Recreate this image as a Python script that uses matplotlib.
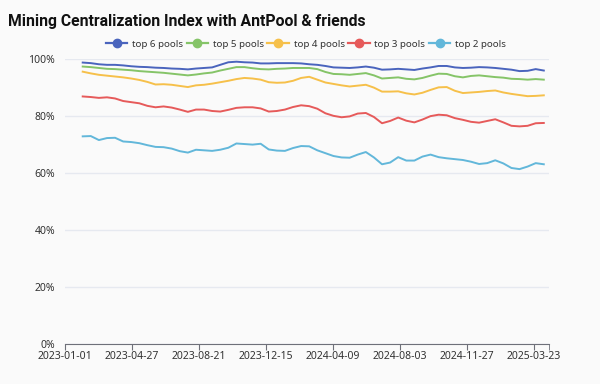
import numpy as np
import pandas as pd
import matplotlib
matplotlib.use('Agg')
import matplotlib.pyplot as plt
from matplotlib.ticker import FuncFormatter

dates = pd.date_range('2023-02-01', periods=58, freq='14D')

top6 = [98.8, 98.6, 98.2, 98.0, 98.0, 97.8, 97.5, 97.3, 97.2, 97.0,
        96.9, 96.7, 96.6, 96.4, 96.7, 96.9, 97.1, 98.0, 98.9, 99.1,
        98.9, 98.8, 98.5, 98.5, 98.6, 98.6, 98.6, 98.5, 98.2, 98.0,
        97.6, 97.1, 97.0, 96.9, 97.1, 97.4, 97.0, 96.3, 96.4, 96.6,
        96.4, 96.2, 96.7, 97.1, 97.6, 97.6, 97.1, 96.9, 97.0, 97.2,
        97.1, 96.9, 96.6, 96.3, 95.8, 95.9, 96.5, 96.0]
top5 = [97.4, 97.2, 96.9, 96.6, 96.5, 96.3, 96.1, 95.8, 95.6, 95.4,
        95.2, 94.9, 94.6, 94.3, 94.6, 95.0, 95.3, 96.0, 96.6, 97.2,
        97.2, 96.8, 96.5, 96.4, 96.6, 96.7, 96.9, 96.9, 96.9, 96.5,
        95.5, 94.8, 94.7, 94.5, 94.8, 95.1, 94.3, 93.2, 93.4, 93.6,
        93.1, 92.9, 93.4, 94.2, 94.9, 94.8, 94.0, 93.6, 94.1, 94.3,
        94.0, 93.7, 93.5, 93.1, 93.0, 92.8, 93.0, 92.8]
top4 = [95.6, 95.0, 94.5, 94.2, 93.9, 93.6, 93.2, 92.7, 92.0, 91.1,
        91.2, 91.0, 90.6, 90.2, 90.8, 91.0, 91.4, 91.9, 92.4, 93.0,
        93.4, 93.2, 92.8, 91.9, 91.7, 91.8, 92.4, 93.4, 93.8, 92.8,
        91.8, 91.3, 90.8, 90.4, 90.7, 91.0, 90.0, 88.6, 88.6, 88.7,
        88.0, 87.6, 88.2, 89.2, 90.1, 90.2, 88.9, 88.1, 88.3, 88.5,
        88.8, 89.0, 88.3, 87.8, 87.4, 87.0, 87.1, 87.3]
top3 = [86.9, 86.7, 86.4, 86.6, 86.2, 85.3, 84.9, 84.5, 83.6, 83.1,
        83.4, 83.0, 82.3, 81.5, 82.3, 82.3, 81.8, 81.6, 82.2, 82.9,
        83.1, 83.1, 82.7, 81.6, 81.8, 82.3, 83.2, 83.8, 83.5, 82.6,
        81.0, 80.1, 79.6, 79.9, 80.9, 81.1, 79.7, 77.5, 78.3, 79.5,
        78.4, 77.8, 78.8, 80.0, 80.5, 80.3, 79.3, 78.7, 78.0, 77.7,
        78.3, 78.9, 77.8, 76.6, 76.4, 76.6, 77.5, 77.6]
top2 = [72.9, 73.0, 71.6, 72.3, 72.4, 71.1, 70.9, 70.5, 69.8, 69.2,
        69.1, 68.6, 67.7, 67.2, 68.2, 68.0, 67.8, 68.2, 68.9, 70.4,
        70.2, 70.0, 70.3, 68.3, 67.9, 67.8, 68.8, 69.5, 69.4, 68.0,
        67.0, 66.0, 65.5, 65.4, 66.5, 67.4, 65.5, 63.1, 63.7, 65.6,
        64.4, 64.4, 65.8, 66.5, 65.6, 65.2, 64.9, 64.6, 64.0, 63.2,
        63.5, 64.5, 63.4, 61.8, 61.4, 62.3, 63.5, 63.1]

series = [('top 6 pools', top6, '#4a64bd'),
          ('top 5 pools', top5, '#85c468'),
          ('top 4 pools', top4, '#f6c04a'),
          ('top 3 pools', top3, '#e65a5a'),
          ('top 2 pools', top2, '#62b7da')]

tick_labels = ['2023-01-01', '2023-04-27', '2023-08-21', '2023-12-15',
               '2024-04-09', '2024-08-03', '2024-11-27', '2025-03-23']

plt.rcParams['font.family'] = ['Noto Sans', 'DejaVu Sans']

bg = '#fafafa'
fig = plt.figure(figsize=(6, 3.84), dpi=100, facecolor=bg)
ax = fig.add_axes([0.108, 0.104, 0.807, 0.742], facecolor=bg)

for name, vals, col in series:
    ax.plot(dates, vals, color=col, lw=1.4, label=name)

x_end = pd.Timestamp('2025-04-18')
ax.set_xlim(pd.Timestamp('2023-01-01'), x_end)
ax.set_ylim(0, 100)

ax.set_xticks(pd.to_datetime(tick_labels))
ax.set_xticklabels(tick_labels)
ax.set_xticks([x_end], minor=True)
ax.tick_params(axis='x', which='both', length=4, color='#6e7079',
               labelsize=7.5, labelcolor='#333333', pad=1)

ax.set_yticks([0, 20, 40, 60, 80, 100])
ax.yaxis.set_major_formatter(FuncFormatter(lambda v, p: f'{v:.0f}%'))
ax.tick_params(axis='y', length=0, labelsize=7.5, labelcolor='#333333', pad=7)
ax.grid(axis='y', color='#e6e9f0', lw=1)
ax.set_axisbelow(True)

for s in ['top', 'right', 'left']:
    ax.spines[s].set_visible(False)
ax.spines['bottom'].set_color('#6e7079')
ax.spines['bottom'].set_zorder(3)

fig.text(0.013, 0.945, 'Mining Centralization Index with AntPool & friends',
         fontsize=11.3, fontweight='bold', family='Roboto', color='#111111',
         va='center')

handles = [plt.Line2D([], [], color=c, lw=1.6, marker='o', markersize=6)
           for _, _, c in series]
fig.legend(handles, [s[0] for s in series], loc='center',
           bbox_to_anchor=(0.51, 0.885), ncol=5, frameon=False,
           fontsize=7, handlelength=2.2, handletextpad=0.5,
           columnspacing=0.35, labelcolor='#333333')

fig.savefig('out.png', dpi=100, facecolor=bg)
